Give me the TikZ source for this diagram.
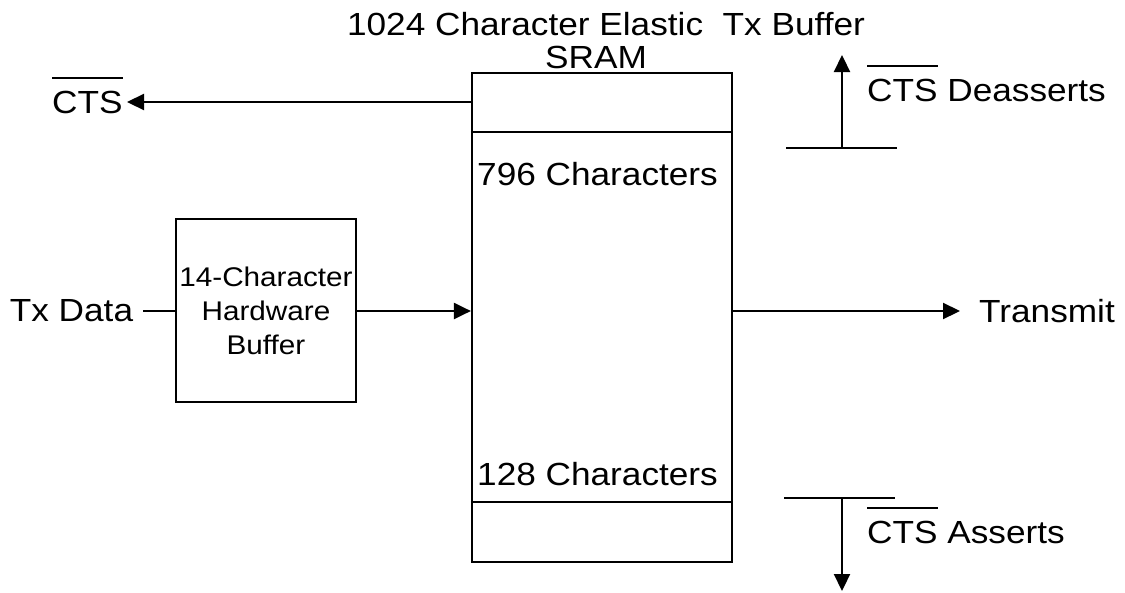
\documentclass[tikz,border=0pt]{standalone}
\usepackage{fontspec}
\setmainfont[FakeStretch=1.1]{Liberation Sans}
\usetikzlibrary{arrows.meta}
\newcommand\ctsbar[1]{\setbox0\hbox{#1}\rlap{\raisebox{34pt}{\rule{\wd0}{2pt}}}\box0\relax}
\tikzset{
  lbl/.style={inner sep=0pt, font=\fontsize{32pt}{38pt}\selectfont},
  small/.style={font=\fontsize{27pt}{34pt}\selectfont},
  blk/.style={draw, line width=2.2pt, rectangle, inner sep=0pt},
  ln/.style={line width=2.2pt},
  arr/.style={line width=2.2pt, -{Triangle[length=17pt,width=16pt]}},
}
\begin{document}
\begin{tikzpicture}[x=1pt,y=-1pt]
\useasboundingbox (0,0) rectangle (1125,592);
% main buffer
\node[blk, minimum width=260pt, minimum height=489pt] (buf) at (602,317.5) {};
\draw[ln] ([yshift=-60pt]buf.north west) -- ([yshift=-60pt]buf.north east);
\draw[ln] ([yshift=61pt]buf.south west) -- ([yshift=61pt]buf.south east);
\node[lbl, anchor=base] (title) at (606,35) {1024 Character Elastic\ \ Tx Buffer};
\node[lbl, anchor=base] (sram) at (596,68) {SRAM};
\node[lbl, anchor=base west] (c796) at (477,185) {796 Characters};
\node[lbl, anchor=base west] (c128) at (477,485) {128 Characters};
% hardware buffer
\node[blk, minimum width=180pt, minimum height=183pt, align=center, small] (hw) at (266,310.5)
  {14-Character\\Hardware\\Buffer};
\node[lbl, anchor=base] (txd) at (71.5,321) {Tx Data};
\coordinate (txdend) at (143,311);
\draw[ln] (txdend) -- (hw.west |- txdend);
\draw[arr] (hw.east |- txdend) -- (buf.west |- txdend);
% CTS out
\node[lbl, anchor=base west] (ctsl) at (52,113) {\ctsbar{CTS}};
\coordinate (ctstip) at (127,102);
\draw[arr] (buf.west |- ctstip) -- (ctstip);
% transmit
\node[lbl, anchor=base west] (tm) at (979,322) {Transmit};
\coordinate (tmtip) at (960,311);
\draw[arr] (buf.east |- tmtip) -- (tmtip);
% deasserts
\coordinate (dL) at (786,148);
\coordinate (dR) at (897,148);
\coordinate (dM) at (842,148);
\coordinate (dT) at (842,55);
\draw[ln] (dL) -- (dR);
\draw[arr] (dM) -- (dT);
\node[lbl, anchor=base west] (deas) at (867,101) {\ctsbar{CTS} Deasserts};
% asserts
\coordinate (aL) at (784,498);
\coordinate (aR) at (895,498);
\coordinate (aM) at (842,498);
\coordinate (aB) at (842,591);
\draw[ln] (aL) -- (aR);
\draw[arr] (aM) -- (aB);
\node[lbl, anchor=base west] (ass) at (867,543) {\ctsbar{CTS} Asserts};
\end{tikzpicture}
\end{document}
